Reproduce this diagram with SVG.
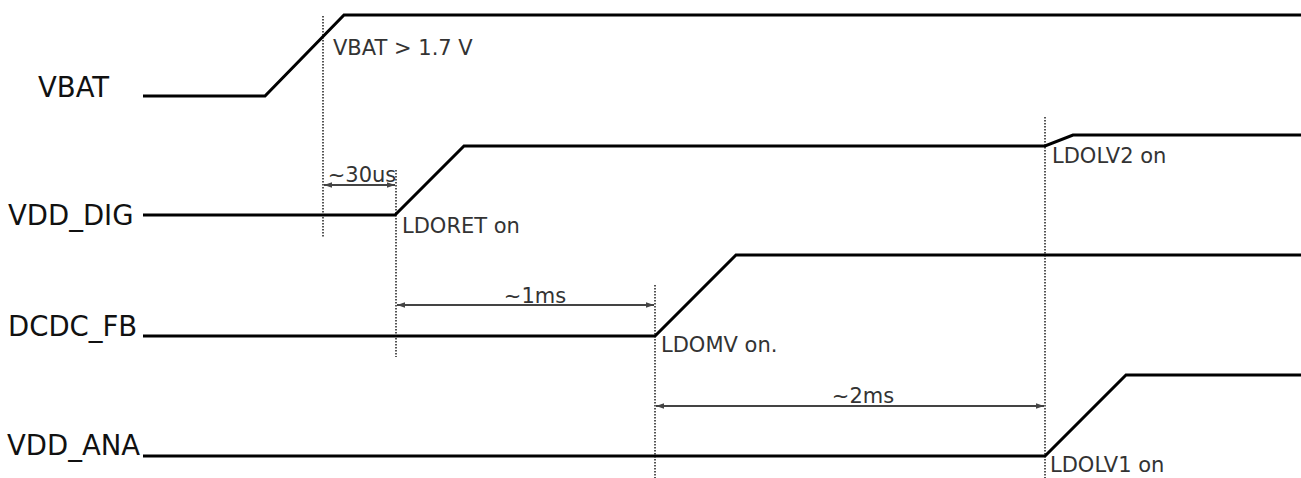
<svg xmlns="http://www.w3.org/2000/svg" width="1301" height="478" viewBox="0 0 1301 478">
<style>
.sig{fill:none;stroke:#000;stroke-width:3;stroke-linejoin:miter}
.dot{stroke:#555;stroke-width:2;stroke-dasharray:1.5 1.5;fill:none}
.dim{stroke:#444;stroke-width:2;fill:none;marker-start:url(#ah);marker-end:url(#ah)}
.lbl{font-family:"DejaVu Sans",Verdana,sans-serif;font-size:27.5px;fill:#111}
.ann{font-family:"DejaVu Sans",Verdana,sans-serif;font-size:21px;fill:#333}
</style>
<defs>
<marker id="ah" viewBox="0 0 10 10" refX="10" refY="5" markerWidth="8" markerHeight="8" orient="auto-start-reverse" markerUnits="userSpaceOnUse">
<path d="M0,1.5 L10,5 L0,8.5 z" fill="#444"/>
</marker>
</defs>
<rect width="1301" height="478" fill="#fff"/>
<g id="guides">
<line class="dot" x1="323" y1="16" x2="323" y2="237"/>
<line class="dot" x1="396" y1="170" x2="396" y2="357"/>
<line class="dot" x1="655" y1="285" x2="655" y2="478"/>
<line class="dot" x1="1045" y1="117" x2="1045" y2="478"/>
</g>
<g id="vbat">
<text class="lbl" x="38" y="97">VBAT</text>
<polyline class="sig" points="143,96 265,96 344,15 1301,15"/>
<text class="ann" x="333" y="55">VBAT &gt; 1.7 V</text>
</g>
<g id="vdd_dig">
<text class="lbl" x="8" y="225">VDD_DIG</text>
<polyline class="sig" points="143,215 395,215 464,146 1045,146 1073,135 1301,135"/>
<text class="ann" x="402" y="233">LDORET on</text>
<text class="ann" x="1052" y="163">LDOLV2 on</text>
</g>
<g id="dcdc_fb">
<text class="lbl" x="8" y="336">DCDC_FB</text>
<polyline class="sig" points="143,336 655,336 736,255 1301,255"/>
<text class="ann" x="661" y="352">LDOMV on.</text>
</g>
<g id="vdd_ana">
<text class="lbl" x="7" y="455">VDD_ANA</text>
<polyline class="sig" points="143,456 1045,456 1126,375 1301,375"/>
<text class="ann" x="1050" y="472">LDOLV1 on</text>
</g>
<g id="connectors">
<line class="dim" x1="324" y1="185" x2="395" y2="185"/>
<line class="dim" x1="397" y1="305" x2="654" y2="305"/>
<line class="dim" x1="656" y1="406" x2="1044" y2="406"/>
<text class="ann" x="362" y="182" text-anchor="middle">~30us</text>
<text class="ann" x="535" y="303" text-anchor="middle">~1ms</text>
<text class="ann" x="863" y="403" text-anchor="middle">~2ms</text>
</g>
</svg>
